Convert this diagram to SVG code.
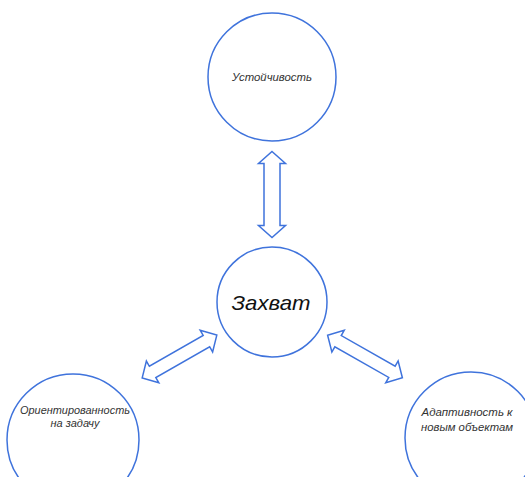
<svg xmlns="http://www.w3.org/2000/svg" width="525" height="477" viewBox="0 0 525 477">
<style>
.node{fill:#fff;stroke:#3f73dc;stroke-width:1.5}
.arr{fill:#fff;stroke:#3f73dc;stroke-width:1.5;stroke-linejoin:miter}
.t{font-family:"Liberation Sans Narrow","Liberation Sans",sans-serif;font-style:italic;fill:#333;text-anchor:middle}
.s{font-size:11px}
.b{font-size:21px;fill:#111}
</style>
<defs>
<polygon id="dbl" points="-43,0 -31,-13.5 -31,-8 31,-8 31,-13.5 43,0 31,13.5 31,8 -31,8 -31,13.5"/>
<polygon id="dbl2" points="-43,0 -31,-12.5 -31,-6.5 31,-6.5 31,-12.5 43,0 31,12.5 31,6.5 -31,6.5 -31,12.5"/>
</defs>
<rect width="525" height="477" fill="#fff"/>
<g id="connectors">
<use href="#dbl" class="arr" transform="translate(272,194.5) rotate(90)"/>
<use href="#dbl2" class="arr" transform="translate(179.5,356.5) rotate(-29.8)"/>
<use href="#dbl2" class="arr" transform="translate(365,356.5) rotate(29.6)"/>
</g>
<g id="n-top">
<circle class="node" cx="272" cy="77" r="64"/>
<text class="t s" x="272" y="81" textLength="80" lengthAdjust="spacingAndGlyphs">Устойчивость</text>
</g>
<g id="n-center">
<circle class="node" cx="272" cy="302" r="55"/>
<text class="t b" x="271" y="310" textLength="79" lengthAdjust="spacingAndGlyphs">Захват</text>
</g>
<g id="n-left">
<circle class="node" cx="73" cy="440" r="66"/>
<text class="t s" x="75" y="414" textLength="110" lengthAdjust="spacingAndGlyphs">Ориентированность</text>
<text class="t s" x="75" y="427">на задачу</text>
</g>
<g id="n-right">
<circle class="node" cx="471" cy="438" r="66"/>
<text class="t s" x="467" y="416" textLength="91" lengthAdjust="spacingAndGlyphs">Адаптивность к</text>
<text class="t s" x="467" y="431" textLength="92" lengthAdjust="spacingAndGlyphs">новым объектам</text>
</g>
</svg>
